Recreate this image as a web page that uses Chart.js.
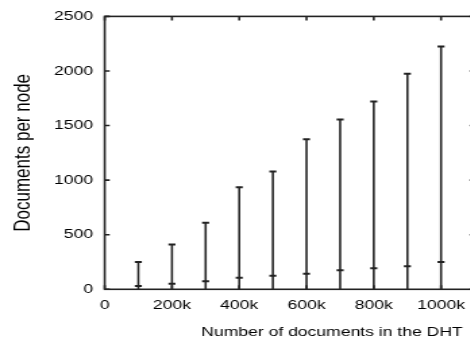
<!DOCTYPE html>
<html>
<head>
<meta charset="utf-8">
<script src="https://cdn.jsdelivr.net/npm/chart.js@4/dist/chart.umd.min.js"></script>
<style>
  html, body { margin: 0; padding: 0; width: 470px; height: 343px; overflow: hidden; background: #fff; }
  /* the reference figure is stretched sideways, so the whole chart is too */
  #wrap { width: 356px; height: 343px; transform: scaleX(1.35); transform-origin: 0 0; }
</style>
</head>
<body>
<div id="wrap"><canvas id="chart" width="356" height="343"></canvas></div>
<script>
// Documents in the DHT (x) and documents per node: max, mean, min
const docsInDht = [100000, 200000, 300000, 400000, 500000, 600000, 700000, 800000, 900000, 1000000];
const maxPerNode = [250, 410, 610, 935, 1080, 1375, 1555, 1720, 1975, 2225];
const meanPerNode = [30, 51, 73, 105, 123, 142, 175, 193, 211, 250];
const minPerNode = [0, 0, 0, 0, 0, 0, 0, 0, 0, 0];

const xTicks = [0, 200000, 400000, 600000, 800000, 1000000];
const xTickLabels = ['0', '200k', '400k', '600k', '800k', '1000k'];
const yTicks = [0, 500, 1000, 1500, 2000, 2500];
const yTickLabels = ['0', '500', '1000', '1500', '2000', '2500'];

const xTitle = 'Number of documents in the DHT';
const yTitle = 'Documents per node';

const ink = '#222';
const textInk = '#000';
const fontFamily = '"Liberation Sans", Arial, Helvetica, sans-serif';

// vertical range lines, broken between x values
const rangePoints = [];
docsInDht.forEach((x, i) => {
    rangePoints.push({ x: x, y: minPerNode[i] });
    rangePoints.push({ x: x, y: maxPerNode[i] });
    rangePoints.push({ x: x, y: null });
});
const maxPoints = docsInDht.map((x, i) => ({ x: x, y: maxPerNode[i] }));
const meanPoints = docsInDht.map((x, i) => ({ x: x, y: meanPerNode[i] }));

// frame, inward tick marks (gnuplot style) and x title
const frameAndTicks = {
    id: 'frameAndTicks',
    afterDraw(chart) {
        const { ctx, chartArea: a, scales: { x, y } } = chart;
        ctx.save();
        ctx.strokeStyle = ink;
        ctx.lineWidth = 1.6;
        ctx.strokeRect(a.left, a.top, a.right - a.left, a.bottom - a.top);
        ctx.beginPath();
        xTicks.forEach(v => {
            const px = x.getPixelForValue(v);
            ctx.moveTo(px, a.top); ctx.lineTo(px, a.top + 4);
            ctx.moveTo(px, a.bottom); ctx.lineTo(px, a.bottom - 4);
        });
        yTicks.forEach(v => {
            const py = y.getPixelForValue(v);
            ctx.moveTo(a.left, py); ctx.lineTo(a.left + 3.7, py);
            ctx.moveTo(a.right, py); ctx.lineTo(a.right - 3.7, py);
        });
        ctx.stroke();
        ctx.fillStyle = textInk;
        ctx.font = '13px ' + fontFamily;
        ctx.textAlign = 'center';
        ctx.textBaseline = 'middle';
        ctx.fillText(xTitle, 245.9, 332);
        ctx.restore();
    }
};

const ctx = document.getElementById('chart').getContext('2d');
new Chart(ctx, {
    type: 'line',
    data: {
        datasets: [{
            data: rangePoints,
            borderColor: ink,
            borderWidth: 1.6,
            pointRadius: 0,
            spanGaps: false,
            fill: false
        }, {
            data: maxPoints,
            showLine: false,
            pointStyle: 'line',
            pointRadius: 2.6,
            pointBorderWidth: 2,
            pointBorderColor: ink,
            borderColor: ink
        }, {
            data: meanPoints,
            showLine: false,
            pointStyle: 'line',
            pointRadius: 2.6,
            pointBorderWidth: 2,
            pointBorderColor: ink,
            borderColor: ink
        }]
    },
    options: {
        responsive: false,
        animation: false,
        events: [],
        layout: { autoPadding: false, padding: { top: 13.8, right: 4.4, left: 0, bottom: 0 } },
        plugins: { legend: { display: false }, tooltip: { enabled: false } },
        scales: {
            x: {
                type: 'linear',
                min: 0,
                max: 1100000,
                afterBuildTicks: s => { s.ticks = xTicks.map(v => ({ value: v })); },
                afterFit: s => { s.height = 53.7; },
                grid: { display: false, drawTicks: false },
                border: { display: false },
                ticks: {
                    autoSkip: false,
                    maxRotation: 0,
                    padding: 8.4,
                    color: textInk,
                    font: { family: fontFamily, size: 13 },
                    callback: (v, i) => xTickLabels[i]
                }
            },
            y: {
                min: 0,
                max: 2500,
                afterBuildTicks: s => { s.ticks = yTicks.map(v => ({ value: v })); },
                afterFit: s => { s.width = 77.56; },
                grid: { display: false, drawTicks: false },
                border: { display: false },
                ticks: {
                    padding: 8.6,
                    color: textInk,
                    font: { family: fontFamily, size: 13 },
                    callback: (v, i) => yTickLabels[i]
                },
                title: {
                    display: true,
                    text: yTitle,
                    color: textInk,
                    font: { family: fontFamily, size: 17 },
                    padding: { top: 6.8, bottom: 0 }
                }
            }
        }
    },
    plugins: [frameAndTicks]
});
</script>
</body>
</html>
